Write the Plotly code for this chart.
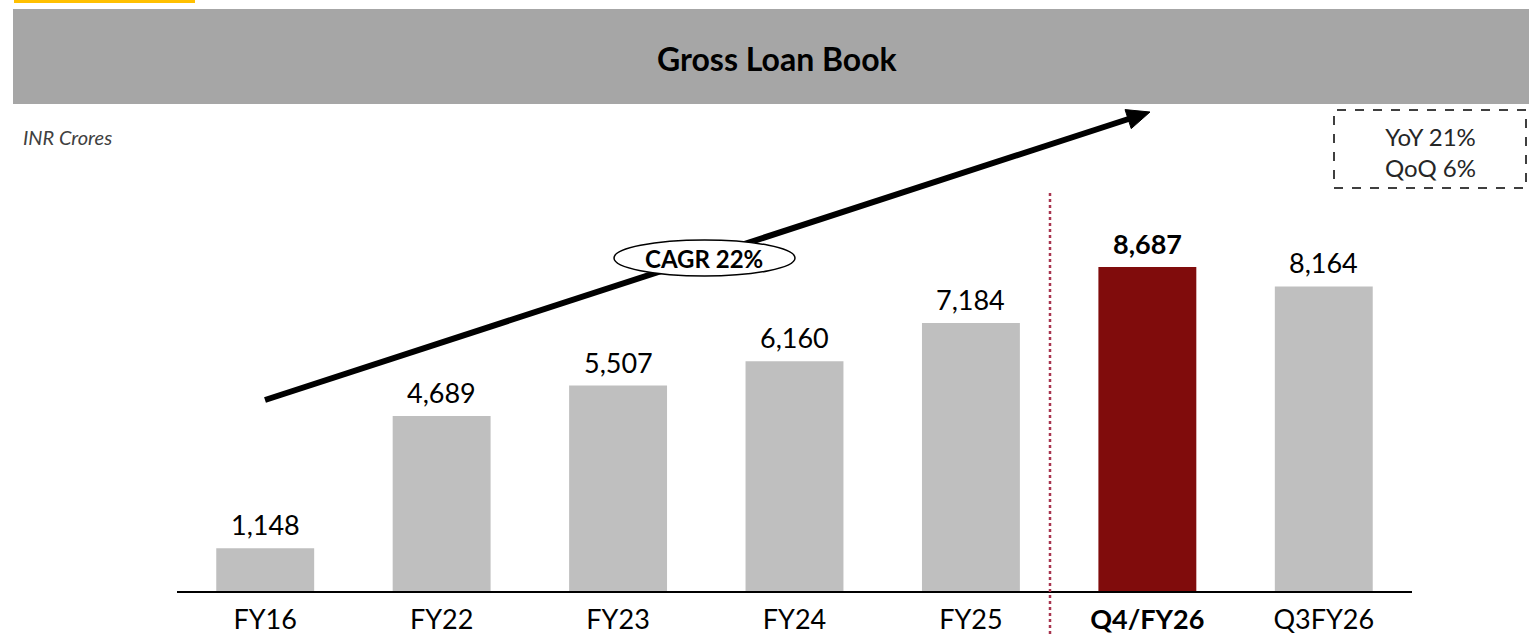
import math
import plotly.graph_objects as go

categories = ["FY16", "FY22", "FY23", "FY24", "FY25", "Q4/FY26", "Q3FY26"]
values = [1148, 4689, 5507, 6160, 7184, 8687, 8164]
highlight = "Q4/FY26"
tick_labels = ["FY16", "FY22", "FY23", "FY24", "FY25", "<b>Q4/FY26</b>", "Q3FY26"]
value_labels = ["1,148", "4,689", "5,507", "6,160", "7,184", "<b>8,687</b>", "8,164"]
title_text = "Gross Loan Book"
unit_text = "INR Crores"
cagr_text = "CAGR 22%"
growth_lines = ["YoY 21%", "QoQ 6%"]

W, H = 1529, 634
L, R, T, B = 177, 117, 110, 43
PW, PH = W - L - R, H - T - B

def px(x):
    return (x - L) / PW

def py(y):
    return (H - B - y) / PH

FONT = "Lato, 'Open Sans', sans-serif"
GRAY = "#BFBFBF"
RED = "#800C0C"

colors = [RED if c == highlight else GRAY for c in categories]
xs = list(range(len(categories)))

fig = go.Figure()
fig.add_trace(go.Bar(
    x=xs, y=values, marker=dict(color=colors, line=dict(width=0)),
    width=0.555, hoverinfo="skip", showlegend=False,
))
# value labels placed from the data values
for xi, v, lab in zip(xs, values, value_labels):
    fig.add_annotation(x=xi, y=v, xref="x", yref="y", text=lab, showarrow=False,
                       yanchor="bottom", xanchor="center", yshift=5,
                       font=dict(family=FONT, size=27, color="#000000"))

shapes = []
annotations = list(fig.layout.annotations)
# yellow tag
shapes.append(dict(type="rect", xref="paper", yref="paper", x0=px(14), x1=px(195), y0=py(3), y1=py(0),
                   fillcolor="#FFC000", line=dict(width=0), layer="above"))
# gray banner
shapes.append(dict(type="rect", xref="paper", yref="paper", x0=px(13), x1=px(1529), y0=py(104), y1=py(9),
                   fillcolor="#A6A6A6", line=dict(width=0), layer="below"))
annotations.append(dict(text="<b>" + title_text + "</b>", xref="paper", yref="paper", x=px(777), y=py(58),
                        showarrow=False, font=dict(family=FONT, size=32, color="#000000"),
                        xanchor="center", yanchor="middle"))
annotations.append(dict(text="<i>" + unit_text + "</i>", xref="paper", yref="paper", x=px(21), y=py(137),
                        showarrow=False, font=dict(family=FONT, size=20, color="#404040"),
                        xanchor="left", yanchor="middle"))
# dotted separator
shapes.append(dict(type="line", xref="paper", yref="paper", x0=px(1050), x1=px(1050), y0=py(634), y1=py(190),
                   line=dict(color="#A8344E", width=2.5, dash="dot"), layer="above"))

# CAGR arrow drawn as shapes (so the ellipse can sit on top of it)
tail = (265, 400)
tip = (1150, 112)
dx, dy = tip[0] - tail[0], tip[1] - tail[1]
ln = math.hypot(dx, dy)
ux, uy = dx / ln, dy / ln
nx, ny = -uy, ux
head_len, head_half = 23, 10
bx, by = tip[0] - head_len * ux, tip[1] - head_len * uy
shapes.append(dict(type="line", xref="paper", yref="paper",
                   x0=px(tail[0]), y0=py(tail[1]), x1=px(bx + 2 * ux), y1=py(by + 2 * uy),
                   line=dict(color="#000000", width=6), layer="above"))
c1 = (bx + head_half * nx, by + head_half * ny)
c2 = (bx - head_half * nx, by - head_half * ny)
path = "M {:.5f},{:.5f} L {:.5f},{:.5f} L {:.5f},{:.5f} Z".format(
    px(tip[0]), py(tip[1]), px(c1[0]), py(c1[1]), px(c2[0]), py(c2[1]))
shapes.append(dict(type="path", xref="paper", yref="paper", path=path,
                   fillcolor="#000000", line=dict(color="#000000", width=1), layer="above"))

# CAGR ellipse
shapes.append(dict(type="circle", xref="paper", yref="paper", x0=px(614), x1=px(795), y0=py(276), y1=py(240),
                   fillcolor="#FFFFFF", line=dict(color="#000000", width=1.5), layer="above"))
annotations.append(dict(text="<b>" + cagr_text + "</b>", xref="paper", yref="paper", x=px(704), y=py(258),
                        showarrow=False, font=dict(family=FONT, size=24, color="#000000"),
                        xanchor="center", yanchor="middle"))
# growth box
shapes.append(dict(type="rect", xref="paper", yref="paper", x0=px(1334), x1=px(1526), y0=py(188), y1=py(110),
                   fillcolor="rgba(0,0,0,0)", line=dict(color="#000000", width=1.5, dash="dash"), layer="above"))
annotations.append(dict(text="<br>".join(growth_lines), xref="paper", yref="paper", x=px(1430), y=py(152),
                        showarrow=False, font=dict(family=FONT, size=24, color="#262626"),
                        xanchor="center", yanchor="middle", align="center"))

fig.update_layout(
    width=W, height=H,
    margin=dict(l=L, r=R, t=T, b=B, pad=0, autoexpand=False),
    paper_bgcolor="#FFFFFF", plot_bgcolor="#FFFFFF",
    showlegend=False,
    shapes=shapes, annotations=annotations,
    xaxis=dict(range=[-0.5, len(categories) - 0.5], tickvals=xs, ticktext=tick_labels,
               showgrid=False, zeroline=False, showline=True, linecolor="#000000", linewidth=1.5,
               ticks="", ticklabelstandoff=4, automargin=False,
               tickfont=dict(family=FONT, size=27, color="#000000"), fixedrange=True),
    yaxis=dict(range=[0, PH / 0.0373], visible=False, showgrid=False, zeroline=False,
               fixedrange=True, automargin=False),
    font=dict(family=FONT),
)

fig.write_html("out.html", config={"displayModeBar": False},
               post_script="document.body.style.margin='0px';document.body.style.overflow='hidden';")
